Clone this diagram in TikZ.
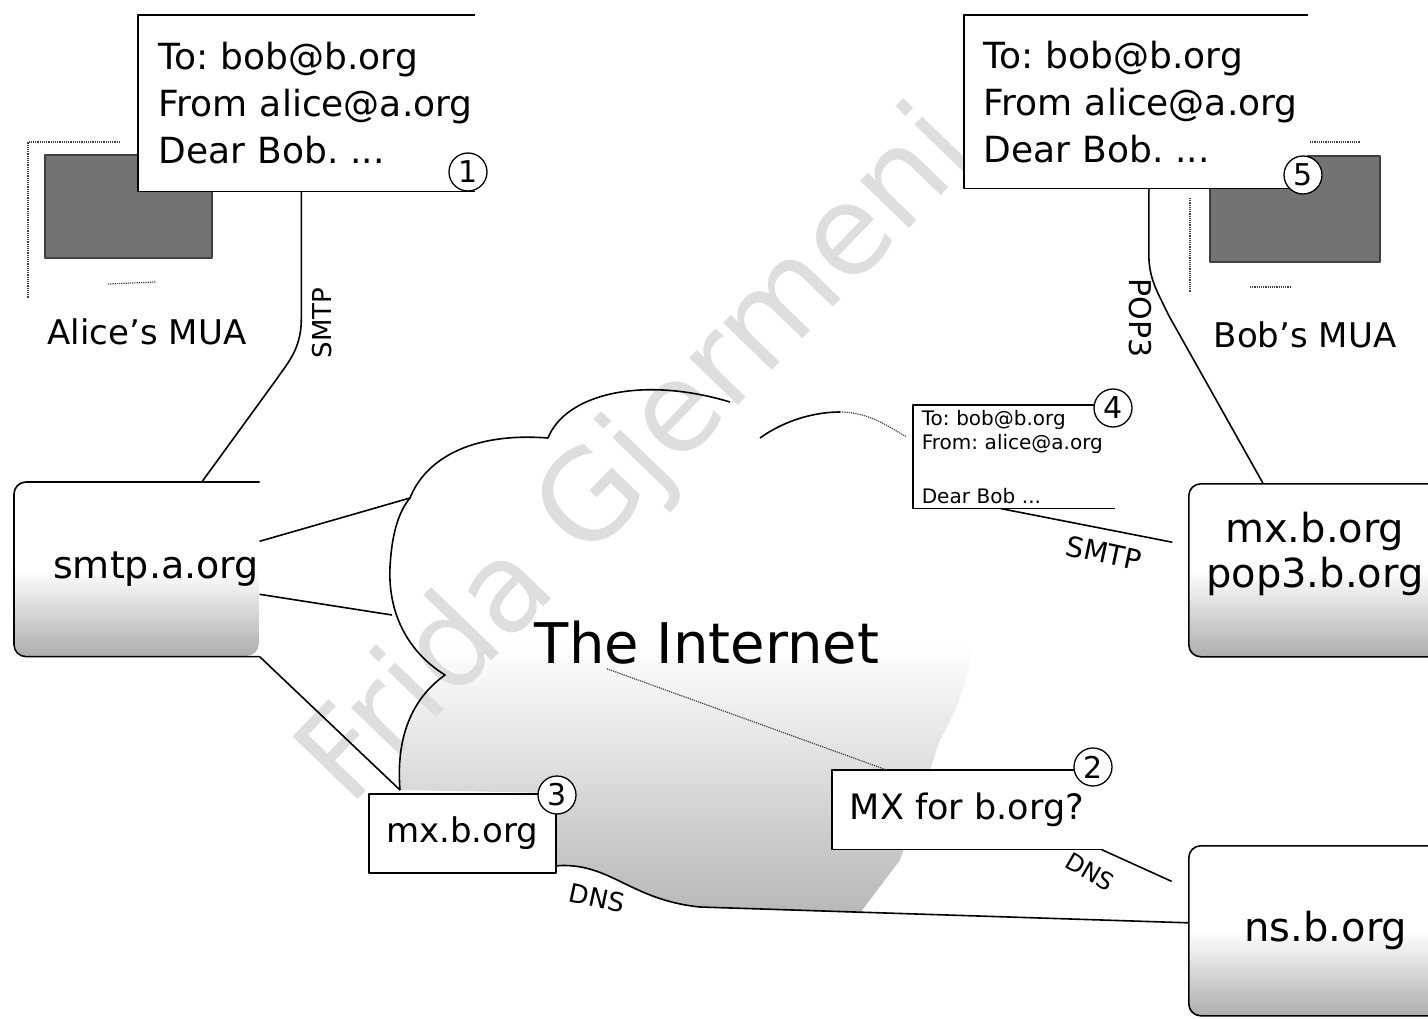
\documentclass[tikz,border=0pt]{standalone}
\usepackage{fontspec}
\setmainfont{DejaVu Sans}
\usetikzlibrary{calc}
\frenchspacing

\newcommand\opensides[2][]{\draw[#1] (#2.north east) -- (#2.north west) -- (#2.south west) -- (#2.south east);}

\begin{document}
\begin{tikzpicture}[x=1pt, y=-1pt, line width=1.6pt, line join=round,
    msgbox/.style={anchor=north west, fill=white, align=left, font=\fontsize{36}{47}\selectfont},
    hostbox/.style={anchor=north west, rounded corners=12pt, top color=white, bottom color=black!32, middle color=white},
    querybox/.style={anchor=north west, fill=white},
    stepnum/.style={circle, draw, fill=white, minimum size=38pt, inner sep=0pt, line width=1.3pt, font=\fontsize{30}{30}\selectfont},
    proto/.style={font=\fontsize{26}{26}\selectfont},
    mualabel/.style={font=\fontsize{34}{34}\selectfont},
    screen/.style={fill=black!55, draw=black!75, line width=1.2pt},
    faint/.style={line width=1.2pt, densely dotted, black!75}]
\useasboundingbox (0,0) rectangle (1428,1019);
\clip (0,0) rectangle (1428,1019);

\shade[top color=white, bottom color=black!28, middle color=white]
    (400,790) .. controls (396,740) and (410,700) .. (445,675)
    .. controls (405,650) and (388,610) .. (390,567)
    .. controls (392,530) and (400,510) .. (410,498)
    .. controls (425,460) and (470,432) .. (548,438)
    .. controls (565,395) and (640,375) .. (730,402)
    -- (760,438) .. controls (785,420) and (870,405) .. (907,437)
    .. controls (990,470) and (1000,640) .. (940,740)
    -- (900,860) -- (860,913)
    -- (700,907) .. controls (630,900) and (610,862) .. (555,865)
    -- (555,793) -- cycle;

\node[rotate=46, text=black!13, font=\fontsize{124}{124}\selectfont] (mark) at (640,458) {Frida Gjermeni};

\path[screen] (45,155) rectangle (212,258);
\draw[faint] (120,142) -- (28,142) -- (28,298);
\draw[faint] (108,284) -- (156,282);
\path[screen] (1210,156) rectangle (1380,262);
\draw[faint] (1190,198) -- (1190,292);
\draw[faint] (1250,287) -- (1290,287);
\draw[faint] (1310,142) -- (1360,142);

\draw (400,790) .. controls (396,740) and (410,700) .. (445,675)
    .. controls (405,650) and (388,610) .. (390,567)
    .. controls (392,530) and (400,510) .. (410,498)
    .. controls (425,460) and (470,432) .. (548,438)
    .. controls (565,395) and (640,375) .. (730,402);
\draw (760,438) .. controls (785,420) and (815,412) .. (840,412);
\draw[faint] (840,412) .. controls (870,412) and (890,428) .. (907,437);
\coordinate (cl1) at (410,498);
\coordinate (cl2) at (392,615);
\coordinate (cl3) at (400,790);

\node[msgbox, text width=295pt, inner xsep=20pt, minimum height=175pt] (alicemsg) at (138,15)
    {\mbox{To: bob@b.org}\\\mbox{From alice@a.org}\\\mbox{Dear Bob. ...}};
\opensides{alicemsg}
\node[mualabel] (alicemua) at (147,332) {Alice's MUA};

\node[msgbox, text width=304pt, inner xsep=19pt, minimum height=172pt] (bobmsg) at (964,15)
    {\mbox{To: bob@b.org}\\\mbox{From alice@a.org}\\\mbox{Dear Bob. ...}};
\opensides{bobmsg}
\node[mualabel] (bobmua) at (1305,335) {Bob's MUA};

\node[hostbox, text width=244pt, inner xsep=0pt, minimum height=173pt, align=right,
    font=\fontsize{38}{38}\selectfont] (smtpa) at (14,482) {smtp.a.org};
\opensides[rounded corners=12pt]{smtpa}
\node[hostbox, draw, minimum width=252pt, minimum height=173pt, align=center,
    text depth=40pt, font=\fontsize{40}{45}\selectfont] (mxpop) at (1188,483) {mx.b.org\\pop3.b.org};
\node[hostbox, draw, minimum width=274pt, minimum height=170pt,
    font=\fontsize{40}{40}\selectfont] (ns) at (1188,845) {ns.b.org};

\node[msgbox, text width=184pt, inner xsep=8pt, minimum height=102pt,
    font=\fontsize{20}{24}\selectfont] (relaymsg) at (913,405)
    {\mbox{To: bob@b.org}\\\mbox{From: alice@a.org}\\[30pt]\mbox{Dear Bob ...}};
\opensides[line width=1.3pt]{relaymsg}

\node[querybox, draw, minimum width=187pt, minimum height=79pt,
    font=\fontsize{34}{34}\selectfont] (mxreply) at (368,793) {mx.b.org};
\node[querybox, minimum width=268pt, minimum height=78pt,
    font=\fontsize{35}{35}\selectfont] (mxquery) at (832,770) {MX for b.org?};
\opensides{mxquery}

\node[font=\fontsize{56}{56}\selectfont] (inet) at (707,643) {The Internet};

\draw ([xshift=-5pt]alicemsg.south) -- ++(0,128) .. controls +(0,30) and +(10,-15) .. ++(-25,60)
    -- ([xshift=65pt]smtpa.north);
\draw ([yshift=28pt]smtpa.east) -- (cl1);
\draw ([yshift=-25pt]smtpa.east) -- (cl2);
\draw (smtpa.south east) -- (cl3);
\draw ([xshift=13pt]bobmsg.south) -- ++(0,65) .. controls +(0,25) and +(-12,-25) .. ++(20,62)
    -- ([xshift=-52pt]mxpop.north);
\draw[shorten >=16pt] ([xshift=-13pt]relaymsg.south) -- ([yshift=25pt]mxpop.west);
\draw[shorten >=18pt] (mxquery.south east) -- ([yshift=42pt]ns.west);
\draw (mxreply.-19) .. controls (610,862) and (630,900) .. (700,907) -- ([yshift=8pt]ns.west);
\draw[faint] ([xshift=-100pt]inet.south) -- ([xshift=-80pt]mxquery.north);

\node[proto, rotate=90] (lsmtpa) at (322,323) {SMTP};
\node[proto, rotate=-90, font=\fontsize{30}{30}\selectfont] (lpop) at (1140,318) {POP3};
\node[proto, rotate=-12, font=\fontsize{28}{28}\selectfont] (lsmtpb) at (1104,553) {SMTP};
\node[proto, rotate=-30, font=\fontsize{24}{24}\selectfont] (ldnsa) at (1090,872) {DNS};
\node[proto, rotate=-12] (ldnsb) at (597,898) {DNS};

\node[stepnum] (s1) at (468,172) {1};
\node[stepnum] (s2) at (1093,767) {2};
\node[stepnum] (s3) at (557,795) {3};
\node[stepnum] (s4) at (1113,408) {4};
\node[stepnum] (s5) at (1303,175) {5};
\end{tikzpicture}
\end{document}
